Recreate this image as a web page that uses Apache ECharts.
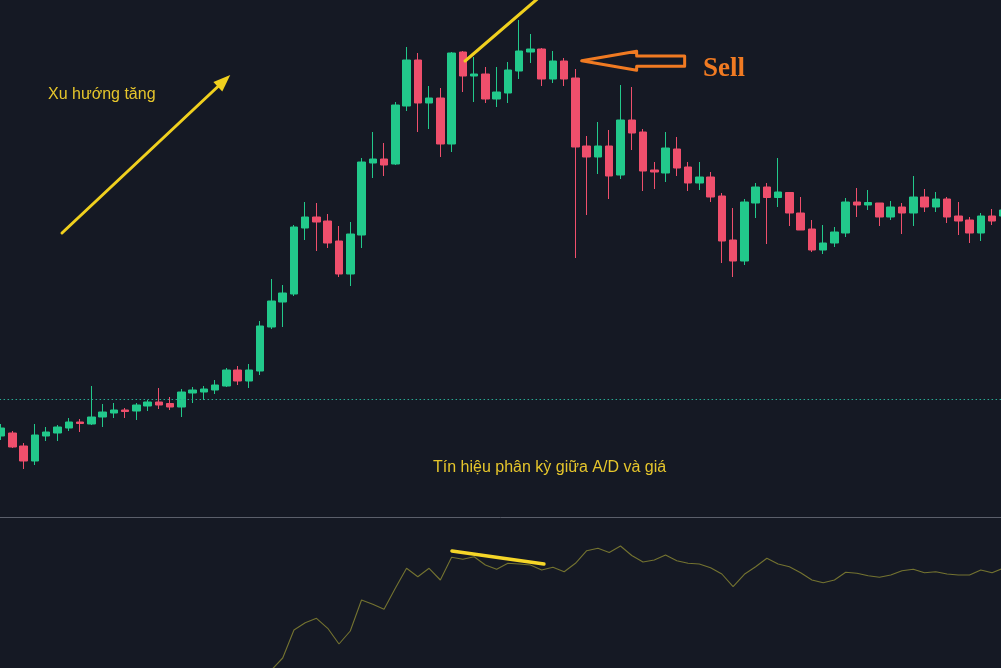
<!DOCTYPE html>
<html><head><meta charset="utf-8">
<script src="https://cdn.jsdelivr.net/npm/echarts@6/dist/echarts.min.js"></script>
<style>html,body{margin:0;padding:0;background:#151924;overflow:hidden}#c{width:1001px;height:668px}</style>
</head><body><div id="c"></div>
<script>
// ---- data ----
const categories = ['1','2','3','4','5','6','7','8','9','10','11','12','13','14','15','16','17','18','19','20',
 '21','22','23','24','25','26','27','28','29','30','31','32','33','34','35','36','37','38','39','40',
 '41','42','43','44','45','46','47','48','49','50','51','52','53','54','55','56','57','58','59','60',
 '61','62','63','64','65','66','67','68','69','70','71','72','73','74','75','76','77','78','79','80',
 '81','82','83','84','85','86','87','88','89','90'];
const openP = [16.4,16.7,15.4,13.9,16.4,16.7,17.2,17.8,17.6,18.3,
 18.7,19.0,18.9,19.4,19.8,19.65,19.3,20.7,20.8,21.0,
 21.4,23.0,21.9,22.9,27.3,29.8,30.6,37.2,38.3,37.9,
 35.9,32.6,36.5,43.7,44.1,43.6,49.4,54.0,49.7,50.2,
 45.6,54.8,52.4,52.6,50.1,50.7,52.9,54.8,55.1,52.1,
 53.9,52.2,45.4,44.3,45.4,42.5,48.0,46.8,43.0,42.7,
 45.1,43.3,41.7,42.3,40.4,36.0,33.9,39.7,41.3,40.25,
 40.75,38.7,37.1,35.0,35.7,36.7,39.8,39.5,39.7,38.3,
 39.3,38.7,40.3,39.3,40.1,38.4,38.0,36.7,38.4,38.4];
const closeP = [17.2,15.3,13.9,16.5,16.8,17.3,17.8,17.65,18.3,18.8,
 19.0,18.85,19.5,19.8,19.5,19.3,20.8,21.0,21.1,21.5,
 23.0,21.9,23.0,27.4,29.9,30.7,37.3,38.3,37.8,35.7,
 32.6,36.6,43.8,44.1,43.5,49.5,54.0,49.7,50.2,45.6,
 54.7,52.4,52.6,50.1,50.8,53.0,54.9,55.1,52.1,53.9,
 52.1,45.3,44.3,45.4,42.4,48.0,46.7,42.9,42.8,45.2,
 43.2,41.7,42.3,40.3,35.9,33.9,39.8,41.3,40.25,40.8,
 38.7,37.0,35.0,35.7,36.8,39.8,39.5,39.75,38.3,39.3,
 38.7,40.3,39.3,40.1,38.3,37.9,36.7,38.4,37.9,39.0];
const lowP = [16.0,15.2,13.1,13.5,15.9,15.9,16.9,16.8,17.5,17.3,
 18.2,18.2,18.0,18.9,19.1,19.0,18.3,19.7,20.0,20.6,
 21.3,21.5,21.2,22.5,27.1,27.3,30.4,36.0,34.9,35.2,
 32.3,31.4,35.2,42.2,42.4,43.5,48.9,46.8,47.1,44.3,
 44.8,50.8,49.8,49.7,49.3,49.7,52.1,53.7,51.4,51.7,
 51.4,34.2,38.5,42.6,40.1,42.1,45.0,40.9,41.1,41.8,
 42.4,40.9,41.0,39.8,33.7,32.3,33.5,38.2,35.6,39.3,
 37.4,37.0,34.8,34.6,35.3,36.3,38.3,39.0,37.4,38.0,
 36.6,37.4,38.8,38.8,37.7,36.5,35.7,35.9,37.5,38.0];
const highP = [17.6,16.9,15.7,17.6,17.3,17.5,18.2,18.1,21.4,19.6,
 19.7,19.2,19.7,20.0,21.2,20.3,21.1,21.3,21.4,22.0,
 23.2,23.4,23.6,27.9,32.1,31.5,37.5,39.8,39.7,38.6,
 37.4,37.8,44.2,46.8,45.7,49.8,55.3,54.7,51.4,51.2,
 54.8,54.9,54.3,53.3,53.3,53.8,58.0,56.6,55.2,54.9,
 54.2,53.1,46.4,47.8,47.0,51.5,51.3,47.1,43.8,46.8,
 46.3,43.8,43.8,42.8,40.7,39.2,40.1,41.7,41.7,44.2,
 40.8,40.3,38.0,37.5,37.3,40.2,41.2,41.0,39.7,39.9,
 39.7,42.4,41.1,40.8,40.3,39.8,38.3,38.7,39.1,39.4];
const adValues = [null,null,null,null,null,null,null,null,null,null,
 null,null,null,null,null,null,null,null,null,null,
 null,null,null,-320,-20,100,380,453,497,397,
 240,370,680,637,587,797,997,913,997,880,
 1107,1087,1113,1030,987,1047,1040,1030,980,1007,
 963,1047,1173,1197,1155,1220,1125,1060,1080,1130,
 1073,1047,1040,1003,940,813,937,1013,1097,1040,
 1013,953,880,853,880,957,947,923,907,930,
 973,987,953,963,940,930,930,980,953,997];
const priceLine = 20.1;
const trendText = 'Xu hướng tăng';
const divergenceText = 'Tín hiệu phân kỳ giữa A/D và giá';
const sellText = 'Sell';
// annotation anchors in data space: [candle index, value]
const trendArrow = [[5.4, 36.7], [20.34, 52.5]];
const peakLine = [[41.2, 53.9], [47.6, 60.1]];
const sellArrowTip = [51.55, 53.93];
const sellLabelAt = [62.33, 53.1];
const trendLabelAt = [4.16, 50.5];
const divergenceLabelAt = [38.35, 13.2];
const adTrendLine = [[40.03, 1170], [48.2, 1040]];

const candleData = openP.map((o, i) => [o, closeP[i], lowP[i], highP[i]]);

const UP = '#22c98b', DOWN = '#ef4f6c';
const chart = echarts.init(document.getElementById('c'), null, {renderer: 'canvas'});
const gridBase = {left: -4.43, width: 1013.4, outerBoundsMode: 'none', containLabel: false};
const hiddenY = {axisLine:{show:false}, axisTick:{show:false}, axisLabel:{show:false}, splitLine:{show:false}};
chart.setOption({
  backgroundColor: '#151924',
  animation: false,
  grid: [Object.assign({top: 0, height: 517}, gridBase), Object.assign({top: 518, height: 150}, gridBase)],
  xAxis: [
    {type:'category', data: categories, gridIndex:0, boundaryGap:true,
     axisLine:{show:true, lineStyle:{color:'#5b5f6b', width:1}}, axisTick:{show:false}, axisLabel:{show:false}, splitLine:{show:false}},
    {type:'category', data: categories, gridIndex:1, boundaryGap:true,
     axisLine:{show:false}, axisTick:{show:false}, axisLabel:{show:false}, splitLine:{show:false}}
  ],
  yAxis: [
    Object.assign({type:'value', gridIndex:0, min:8.3, max:60, scale:true}, hiddenY),
    Object.assign({type:'value', gridIndex:1, min:0, max:1500}, hiddenY)
  ],
  series: [
    {type:'candlestick', xAxisIndex:0, yAxisIndex:0, data: candleData, barWidth: 8,
     itemStyle:{color:UP, color0:DOWN, borderColor:UP, borderColor0:DOWN, borderColorDoji:UP, borderWidth:1},
     markLine:{silent:true, symbol:['none','none'], label:{show:false},
       lineStyle:{color:'#2aa893', type:[1.5,2.5], width:1.2}, data:[{yAxis: priceLine}]}},
    {type:'line', xAxisIndex:1, yAxisIndex:1, data: adValues, symbol:'none', clip:true,
     lineStyle:{color:'#747330', width:1.1}, connectNulls:false}
  ]
});

function P(pt, g) {
  const a = chart.convertToPixel({gridIndex: g}, [0, pt[1]]);
  const b = chart.convertToPixel({gridIndex: g}, [1, pt[1]]);
  return [a[0] + pt[0] * (b[0] - a[0]), a[1]];
}
const YEL = '#f0d01e', TXT = '#e6c62c', ORG = '#f07a22';
const t0 = P(trendArrow[0], 0), t1 = P(trendArrow[1], 0);
const dx = t1[0]-t0[0], dy = t1[1]-t0[1], len = Math.hypot(dx, dy);
const ux = dx/len, uy = dy/len, HL = 17, HW = 6.5;
const base = [t1[0]-ux*HL, t1[1]-uy*HL];
const p0 = P(peakLine[0], 0), p1 = P(peakLine[1], 0);
const tip = P(sellArrowTip, 0);
const arrowPts = [[0,0],[55,-9.5],[55,-4.8],[103,-4.8],[103,5.5],[55,5.5],[55,9.5]].map(q => [tip[0]+q[0], tip[1]+q[1]]);
const sl = P(sellLabelAt, 0), tl = P(trendLabelAt, 0), dl = P(divergenceLabelAt, 0);
const a0 = P(adTrendLine[0], 1), a1 = P(adTrendLine[1], 1);

chart.setOption({graphic: [
  {type:'line', shape:{x1:t0[0], y1:t0[1], x2:base[0]+ux*2, y2:base[1]+uy*2}, style:{stroke:YEL, lineWidth:3, lineCap:'round'}, z:100},
  {type:'polygon', shape:{points:[t1, [base[0]-uy*HW, base[1]+ux*HW], [base[0]+uy*HW, base[1]-ux*HW]]}, style:{fill:YEL}, z:100},
  {type:'line', shape:{x1:p0[0], y1:p0[1], x2:p1[0], y2:p1[1]}, style:{stroke:YEL, lineWidth:3, lineCap:'round'}, z:100},
  {type:'polygon', shape:{points: arrowPts}, style:{fill:'none', stroke:ORG, lineWidth:3, lineJoin:'round'}, z:100},
  {type:'text', x: sl[0], y: sl[1], style:{text: sellText, fill: ORG, font:'bold 27px "Liberation Serif", "Times New Roman", serif', textAlign:'left', textVerticalAlign:'middle'}, z:100},
  {type:'text', x: tl[0], y: tl[1], style:{text: trendText, fill: TXT, font:'16px "Liberation Sans", Arial, sans-serif', textAlign:'left', textVerticalAlign:'middle'}, z:100},
  {type:'text', x: dl[0], y: dl[1], style:{text: divergenceText, fill: TXT, font:'16px "Liberation Sans", Arial, sans-serif', textAlign:'left', textVerticalAlign:'middle'}, z:100},
  {type:'line', shape:{x1:a0[0], y1:a0[1], x2:a1[0], y2:a1[1]}, style:{stroke:'#f5d628', lineWidth:3.5, lineCap:'round'}, z:100}
]});
</script></body></html>
